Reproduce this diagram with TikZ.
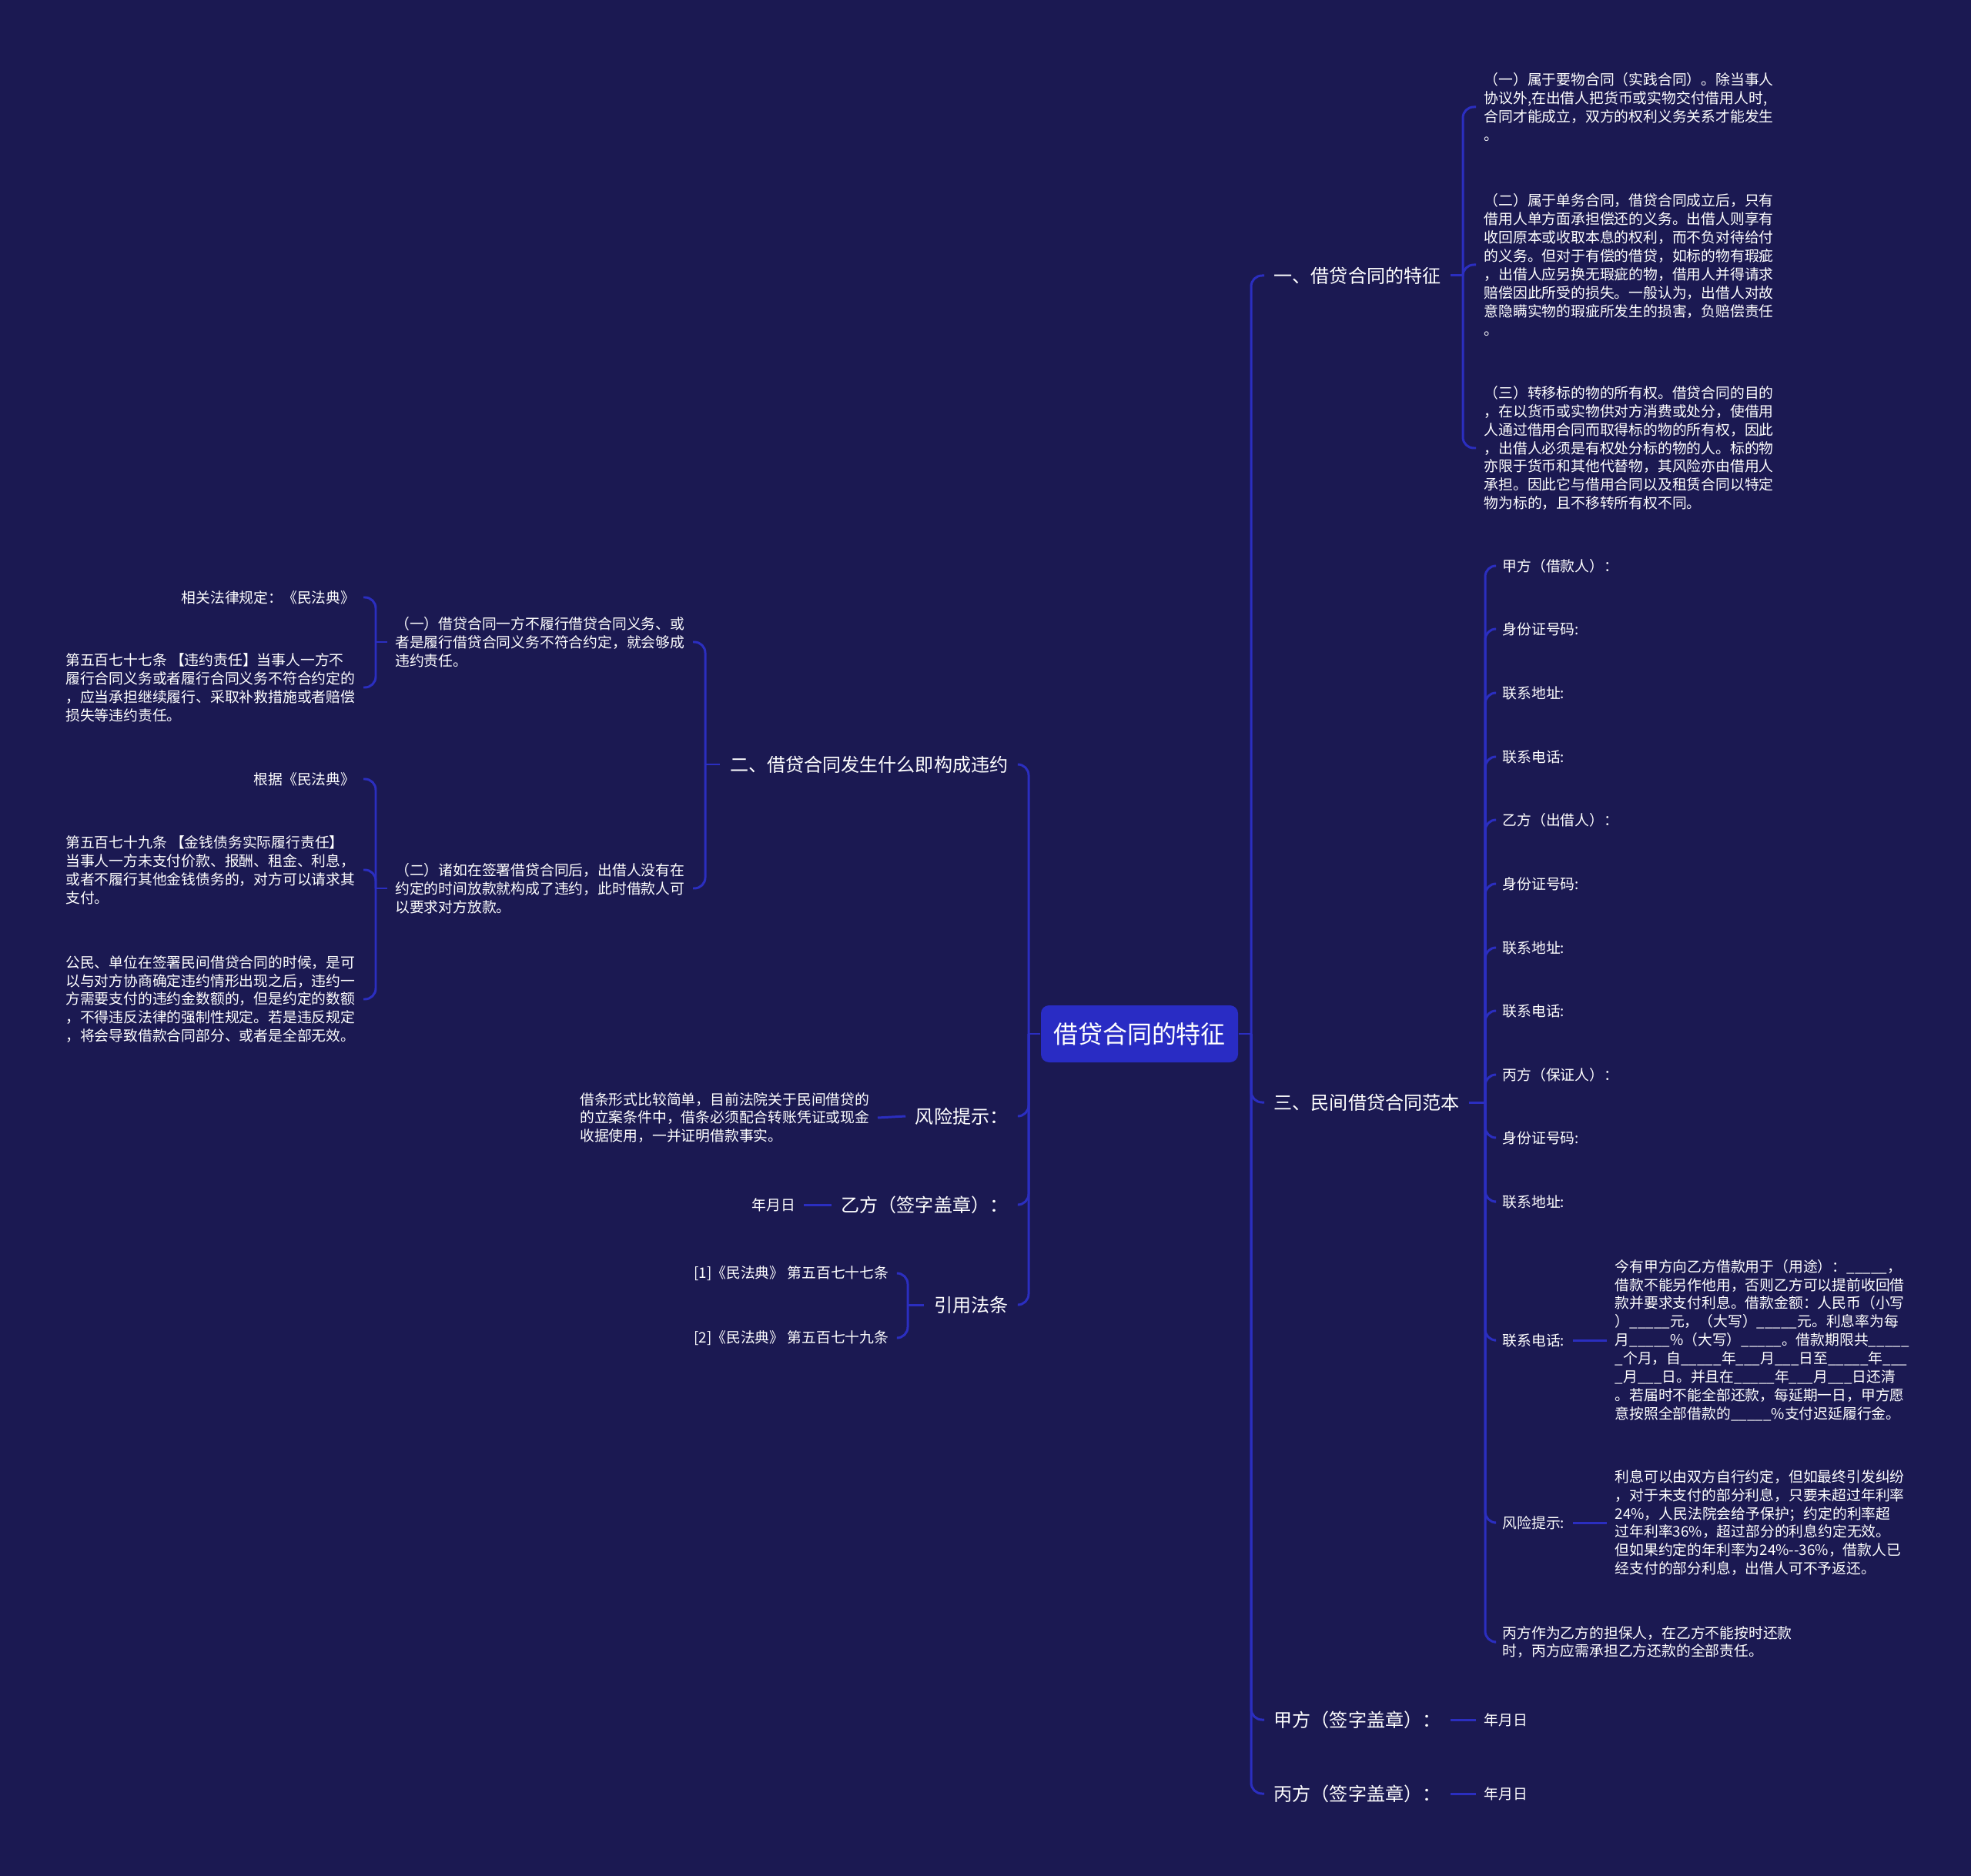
\documentclass[tikz,border=0pt]{standalone}
\usepackage{fontspec}
\usepackage{tikz}
\newfontfamily\cjk{Noto Sans CJK SC}
\definecolor{bgc}{RGB}{27,25,82}
\definecolor{rootc}{RGB}{41,44,196}
\definecolor{linec}{RGB}{43,46,192}
\newcommand{\rtf}{\cjk\fontsize{9.1pt}{11pt}\selectfont}
\newcommand{\tpf}{\cjk\fontsize{6.85pt}{8.5pt}\selectfont}
\newcommand{\lff}{\cjk\fontsize{5.35pt}{6.8pt}\selectfont}
\tikzset{rt/.style={fill=rootc,rounded corners=3pt,text=white,font=\rtf,minimum width=2.56cm,minimum height=0.74cm,inner sep=0pt},
 tp/.style={text=white,font=\tpf,inner xsep=0.12cm,inner ysep=2pt},
 lf/.style={text=white,font=\lff,align=left,inner xsep=0.1cm,inner ysep=1pt},
 ln/.style={draw=linec,line width=0.85pt,rounded corners=4pt}}

\begin{document}
\begin{tikzpicture}
\fill[bgc](0,0)rectangle(25.6,-24.37);
\node[rt](rt) at (14.80,-13.43){借贷合同的特征};
\coordinate(jR) at (16.25,-13.43);\coordinate(jL) at (13.36,-13.43);
\node[tp,anchor=west](t1) at (16.42,-3.58){一、借贷合同的特征};
\node[tp,anchor=west](t3) at (16.42,-14.32){三、民间借贷合同范本};
\node[tp,anchor=west](tJ) at (16.42,-22.34){甲方（签字盖章）：};
\node[tp,anchor=west](tB) at (16.42,-23.30){丙方（签字盖章）：};
\coordinate(j1) at (19.00,-3.58);
\node[lf,anchor=west](p11) at (19.17,-1.39){（一）属于要物合同（实践合同）。除当事人\\协议外,在出借人把货币或实物交付借用人时,\\合同才能成立，双方的权利义务关系才能发生\\。};
\node[lf,anchor=west](p12) at (19.17,-3.44){（二）属于单务合同，借贷合同成立后，只有\\借用人单方面承担偿还的义务。出借人则享有\\收回原本或收取本息的权利，而不负对待给付\\的义务。但对于有偿的借贷，如标的物有瑕疵\\，出借人应另换无瑕疵的物，借用人并得请求\\赔偿因此所受的损失。一般认为，出借人对故\\意隐瞒实物的瑕疵所发生的损害，负赔偿责任\\。};
\node[lf,anchor=west](p13) at (19.17,-5.82){（三）转移标的物的所有权。借贷合同的目的\\，在以货币或实物供对方消费或处分，使借用\\人通过借用合同而取得标的物的所有权，因此\\，出借人必须是有权处分标的物的人。标的物\\亦限于货币和其他代替物，其风险亦由借用人\\承担。因此它与借用合同以及租赁合同以特定\\物为标的，且不移转所有权不同。};
\coordinate(j3) at (19.29,-14.32);
\node[lf,anchor=west](c1) at (19.41,-7.35){甲方（借款人）：};
\node[lf,anchor=west](c2) at (19.41,-8.17){身份证号码:};
\node[lf,anchor=west](c3) at (19.41,-9.00){联系地址:};
\node[lf,anchor=west](c4) at (19.41,-9.83){联系电话:};
\node[lf,anchor=west](c5) at (19.41,-10.65){乙方（出借人）：};
\node[lf,anchor=west](c6) at (19.41,-11.48){身份证号码:};
\node[lf,anchor=west](c7) at (19.41,-12.31){联系地址:};
\node[lf,anchor=west](c8) at (19.41,-13.13){联系电话:};
\node[lf,anchor=west](c9) at (19.41,-13.96){丙方（保证人）：};
\node[lf,anchor=west](c10) at (19.41,-14.78){身份证号码:};
\node[lf,anchor=west](c11) at (19.41,-15.61){联系地址:};
\node[lf,anchor=west](c12) at (19.41,-17.41){联系电话:};
\node[lf,anchor=west](c13) at (19.41,-19.78){风险提示:};
\node[lf,anchor=west](c14) at (19.41,-21.33){丙方作为乙方的担保人，在乙方不能按时还款\\时，丙方应需承担乙方还款的全部责任。};
\node[lf,anchor=west](q1) at (20.87,-17.41){今有甲方向乙方借款用于（用途）：\_\_\_\_\_，\\借款不能另作他用，否则乙方可以提前收回借\\款并要求支付利息。借款金额：人民币（小写\\）\_\_\_\_\_元，（大写）\_\_\_\_\_元。利息率为每\\月\_\_\_\_\_\%（大写）\_\_\_\_\_。借款期限共\_\_\_\_\_\\\_个月，自\_\_\_\_\_年\_\_\_月\_\_\_日至\_\_\_\_\_年\_\_\_\\\_月\_\_\_日。并且在\_\_\_\_\_年\_\_\_月\_\_\_日还清\\。若届时不能全部还款，每延期一日，甲方愿\\意按照全部借款的\_\_\_\_\_\%支付迟延履行金。};
\node[lf,anchor=west](q2) at (20.87,-19.78){利息可以由双方自行约定，但如最终引发纠纷\\，对于未支付的部分利息，只要未超过年利率\\24\%，人民法院会给予保护；约定的利率超\\过年利率36\%，超过部分的利息约定无效。\\但如果约定的年利率为24\%-{}-36\%，借款人已\\经支付的部分利息，出借人可不予返还。};
\node[lf,anchor=west](dJ) at (19.17,-22.34){年月日};
\node[lf,anchor=west](dB) at (19.17,-23.30){年月日};
\node[tp,anchor=east](t2) at (13.22,-9.93){二、借贷合同发生什么即构成违约};
\node[tp,anchor=east](tR) at (13.22,-14.50){风险提示：};
\node[tp,anchor=east](tY) at (13.22,-15.65){乙方（签字盖章）：};
\node[tp,anchor=east](tC) at (13.22,-16.95){引用法条};
\coordinate(j2) at (9.16,-9.93);
\node[lf,anchor=east](r1) at (9.00,-8.34){（一）借贷合同一方不履行借贷合同义务、或\\者是履行借贷合同义务不符合约定，就会够成\\违约责任。};
\node[lf,anchor=east](r2) at (9.00,-11.54){（二）诸如在签署借贷合同后，出借人没有在\\约定的时间放款就构成了违约，此时借款人可\\以要求对方放款。};
\coordinate(jr1) at (4.88,-8.34);\coordinate(jr2) at (4.88,-11.54);
\node[lf,anchor=east](s1) at (4.72,-7.76){相关法律规定：《民法典》};
\node[lf,anchor=east](s2) at (4.72,-8.93){第五百七十七条 【违约责任】当事人一方不\\履行合同义务或者履行合同义务不符合约定的\\，应当承担继续履行、采取补救措施或者赔偿\\损失等违约责任。};
\node[lf,anchor=east](s3) at (4.72,-10.12){根据《民法典》};
\node[lf,anchor=east](s4) at (4.72,-11.30){第五百七十九条 【金钱债务实际履行责任】\\当事人一方未支付价款、报酬、租金、利息，\\或者不履行其他金钱债务的，对方可以请求其\\支付。};
\node[lf,anchor=east](s5) at (4.72,-12.98){公民、单位在签署民间借贷合同的时候，是可\\以与对方协商确定违约情形出现之后，违约一\\方需要支付的违约金数额的，但是约定的数额\\，不得违反法律的强制性规定。若是违反规定\\，将会导致借款合同部分、或者是全部无效。};
\node[lf,anchor=east](u1) at (11.40,-14.52){借条形式比较简单，目前法院关于民间借贷的\\的立案条件中，借条必须配合转账凭证或现金\\收据使用，一并证明借款事实。};
\node[lf,anchor=east](dY) at (10.44,-15.65){年月日};
\coordinate(jC) at (11.79,-16.95);
\node[lf,anchor=east](v1) at (11.65,-16.54){[1]《民法典》 第五百七十七条};
\node[lf,anchor=east](v2) at (11.65,-17.38){[2]《民法典》 第五百七十九条};
\draw[ln](rt.east)--(jR);\draw[ln](rt.west)--(jL);
\draw[ln](jR)|-(t1.west);\draw[ln](jR)|-(t3.west);\draw[ln](jR)|-(tJ.west);\draw[ln](jR)|-(tB.west);
\draw[ln](t1.east)--(j1);\draw[ln](j1)|-(p11.west);\draw[ln](j1)|-(p12.west);\draw[ln](j1)|-(p13.west);
\draw[ln](t3.east)--(j3);\draw[ln](j3)|-(c1.west);\draw[ln](j3)|-(c2.west);\draw[ln](j3)|-(c3.west);\draw[ln](j3)|-(c4.west);
\draw[ln](j3)|-(c5.west);\draw[ln](j3)|-(c6.west);\draw[ln](j3)|-(c7.west);\draw[ln](j3)|-(c8.west);
\draw[ln](j3)|-(c9.west);\draw[ln](j3)|-(c10.west);\draw[ln](j3)|-(c11.west);\draw[ln](j3)|-(c12.west);
\draw[ln](j3)|-(c13.west);\draw[ln](j3)|-(c14.west);
\draw[ln](c12.east)--(q1.west);\draw[ln](c13.east)--(q2.west);
\draw[ln](tJ.east)--(dJ.west);\draw[ln](tB.east)--(dB.west);
\draw[ln](jL)|-(t2.east);\draw[ln](jL)|-(tR.east);\draw[ln](jL)|-(tY.east);\draw[ln](jL)|-(tC.east);
\draw[ln](t2.west)--(j2);\draw[ln](j2)|-(r1.east);\draw[ln](j2)|-(r2.east);
\draw[ln](r1.west)--(jr1);\draw[ln](jr1)|-(s1.east);\draw[ln](jr1)|-(s2.east);
\draw[ln](r2.west)--(jr2);\draw[ln](jr2)|-(s3.east);\draw[ln](jr2)|-(s4.east);\draw[ln](jr2)|-(s5.east);
\draw[ln](tR.west)--(u1.east);\draw[ln](tY.west)--(dY.east);
\draw[ln](tC.west)--(jC);\draw[ln](jC)|-(v1.east);\draw[ln](jC)|-(v2.east);
\end{tikzpicture}
\end{document}
